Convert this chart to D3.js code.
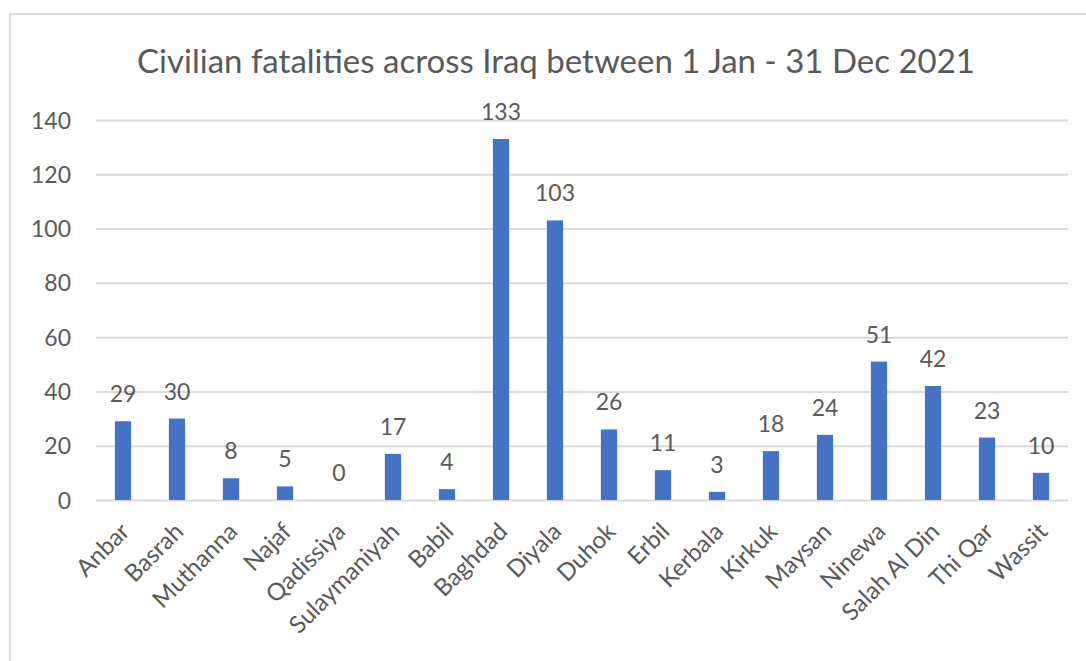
<!DOCTYPE html>
<html>
<head>
<meta charset="utf-8">
<script src="https://cdn.jsdelivr.net/npm/d3@7"></script>
<style>
  body { margin: 0; background: #fff; }
  text { font-family: Lato, "Open Sans", sans-serif; fill: #595959; }
</style>
</head>
<body>
<div id="chart"></div>
<script>
// data
var provinces = ["Anbar", "Basrah", "Muthanna", "Najaf", "Qadissiya", "Sulaymaniyah", "Babil",
  "Baghdad", "Diyala", "Duhok", "Erbil", "Kerbala", "Kirkuk", "Maysan", "Ninewa",
  "Salah Al Din", "Thi Qar", "Wassit"];
var fatalities = [29, 30, 8, 5, 0, 17, 4, 133, 103, 26, 11, 3, 18, 24, 51, 42, 23, 10];
var yTicks = [0, 20, 40, 60, 80, 100, 120, 140];
var title = "Civilian fatalities across Iraq between 1 Jan - 31 Dec 2021";

var totalWidth = 1086,
    totalHeight = 661,
    margin = {top: 120, right: 18, bottom: 161, left: 96},
    width = totalWidth - margin.left - margin.right,
    height = totalHeight - margin.top - margin.bottom;

var svg = d3.select("#chart").append("svg")
    .attr("width", totalWidth)
    .attr("height", totalHeight);

// chart frame
svg.append("rect")
    .attr("x", 10).attr("y", 14)
    .attr("width", 1100).attr("height", 700)
    .attr("fill", "none")
    .attr("stroke", "#d9d9d9")
    .attr("stroke-width", 2);

svg.append("text")
    .attr("x", 556)
    .attr("y", 73)
    .attr("text-anchor", "middle")
    .style("font-size", "33px")
    .text(title);

var x = d3.scaleBand()
    .domain(provinces)
    .range([0, width])
    .paddingInner(0.7)
    .paddingOuter(0.35);

var y = d3.scaleLinear()
    .domain([0, 140])
    .range([height, 0]);

var g = svg.append("g")
    .attr("transform", "translate(" + margin.left + "," + margin.top + ")");

// gridlines + y labels
var yAxis = g.append("g")
    .call(d3.axisLeft(y).tickValues(yTicks).tickSize(-width).tickPadding(25));
yAxis.select(".domain").remove();
yAxis.selectAll("line").attr("stroke", "#d9d9d9").attr("stroke-width", 2);
yAxis.selectAll("text")
    .attr("dy", "0.35em")
    .style("font-size", "23px")
    .style("font-family", "Lato, sans-serif")
    .attr("fill", "#595959");

g.selectAll(".bar")
  .data(provinces)
  .enter().append("rect")
    .attr("class", "bar")
    .attr("x", function(d) { return x(d); })
    .attr("y", function(d, i) { return y(fatalities[i]); })
    .attr("width", x.bandwidth())
    .attr("height", function(d, i) { return height - y(fatalities[i]); })
    .attr("fill", "#4472c4");

g.selectAll(".label")
  .data(provinces)
  .enter().append("text")
    .attr("class", "label")
    .attr("x", function(d) { return x(d) + x.bandwidth() / 2; })
    .attr("y", function(d, i) { return y(fatalities[i]) - 19; })
    .attr("text-anchor", "middle")
    .style("font-size", "23px")
    .text(function(d, i) { return fatalities[i]; });

// rotated category labels
g.selectAll(".cat")
  .data(provinces)
  .enter().append("text")
    .attr("class", "cat")
    .attr("text-anchor", "end")
    .attr("transform", function(d) {
      return "translate(" + (x(d) + x.bandwidth() / 2 + 8) + "," + (height + 33) + ") rotate(-45)";
    })
    .style("font-size", "24px")
    .text(function(d) { return d; });
</script>
</body>
</html>
